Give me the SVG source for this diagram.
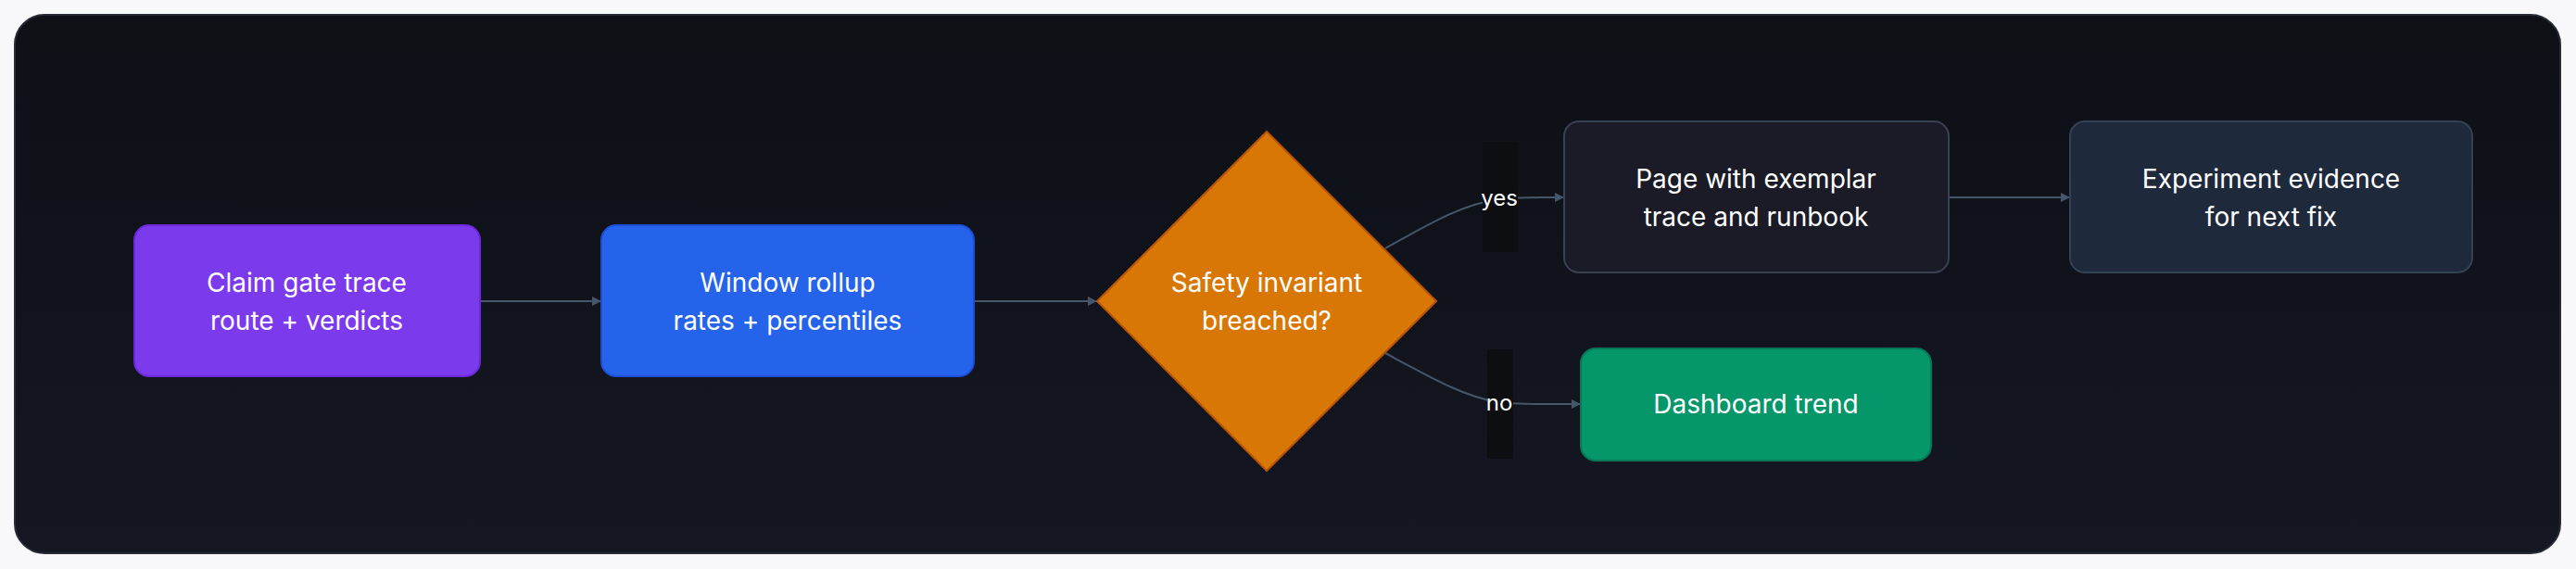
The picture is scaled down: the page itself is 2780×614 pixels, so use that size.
<svg xmlns="http://www.w3.org/2000/svg" width="2780" height="614" viewBox="0 0 2780 614">
<defs>
<marker id="ah" viewBox="0 0 10 10" refX="10" refY="5" markerWidth="10" markerHeight="10" markerUnits="userSpaceOnUse" orient="auto"><path d="M0,0 L10,5 L0,10 z" fill="#475569"/></marker>
<linearGradient id="bg" x1="0" y1="0" x2="0" y2="1"><stop offset="0" stop-color="#0e1016"/><stop offset="1" stop-color="#141622"/></linearGradient>
</defs>
<style>
text{font-family:Inter,"Noto Sans","Liberation Sans",sans-serif;fill:#ffffff;font-size:28px;text-anchor:middle}
.lbl{font-size:24px}
.e{fill:none;stroke:#475569;stroke-width:2;marker-end:url(#ah)}
</style>
<rect width="2780" height="614" fill="#f8f8fa"/>
<rect x="16" y="16" width="2747" height="581" rx="32" fill="url(#bg)" stroke="#262b36" stroke-width="2"/>
<g id="connectors">
<path class="e" d="M518,325 L649,325"/>
<path class="e" d="M1051,325 L1184,325"/>
<path class="e" d="M1495,268 C1545,240 1580,220 1617,215 C1640,212 1660,213 1688,213"/>
<path class="e" d="M1495,381 C1545,408 1580,428 1617,434 C1640,437 1670,436 1706,436"/>
<path class="e" d="M2103,213 L2234,213"/>
<rect x="1600" y="153" width="38" height="119" fill="#0d0e12"/>
<text class="lbl" x="1618" y="222">yes</text>
<rect x="1605" y="377" width="28" height="118" fill="#0d0e12"/>
<text class="lbl" x="1618" y="443">no</text>
</g>
<g id="claim">
<rect x="145" y="243" width="373" height="163" rx="16" fill="#7c3aed" stroke="#6d28d9" stroke-width="2"/>
<text x="331" y="315">Claim gate trace</text>
<text x="331" y="356">route + verdicts</text>
</g>
<g id="window">
<rect x="649" y="243" width="402" height="163" rx="16" fill="#2563eb" stroke="#1d4ed8" stroke-width="2"/>
<text x="850" y="315">Window rollup</text>
<text x="850" y="356">rates + percentiles</text>
</g>
<g id="decision">
<polygon points="1367,142 1550,325 1367,508 1184,325" fill="#d97706" stroke="#b45309" stroke-width="2"/>
<text x="1367" y="315">Safety invariant</text>
<text x="1367" y="356">breached?</text>
</g>
<g id="page">
<rect x="1688" y="131" width="415" height="163" rx="16" fill="#1b1b27" stroke="#374151" stroke-width="2"/>
<text x="1895" y="203">Page with exemplar</text>
<text x="1895" y="244">trace and runbook</text>
</g>
<g id="experiment">
<rect x="2234" y="131" width="434" height="163" rx="16" fill="#1e293b" stroke="#334155" stroke-width="2"/>
<text x="2451" y="203">Experiment evidence</text>
<text x="2451" y="244">for next fix</text>
</g>
<g id="dashboard">
<rect x="1706" y="376" width="378" height="121" rx="16" fill="#059669" stroke="#047857" stroke-width="2"/>
<text x="1895" y="446">Dashboard trend</text>
</g>
</svg>
